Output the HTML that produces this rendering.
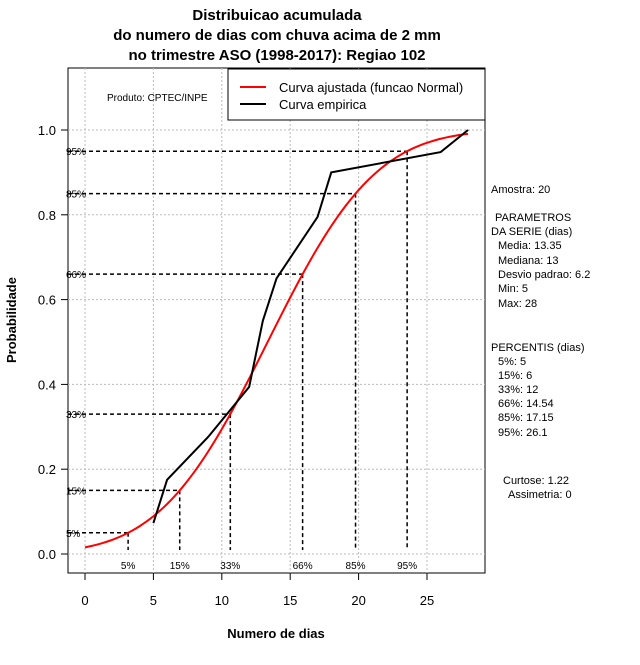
<!DOCTYPE html>
<html><head><meta charset="utf-8">
<style>
body{margin:0;background:#fff;}
svg text{font-family:"Liberation Sans",sans-serif;}
</style></head>
<body>
<svg id="c" width="640" height="660" xmlns="http://www.w3.org/2000/svg">
<text x="277" y="20" text-anchor="middle" font-size="15" font-weight="bold">Distribuicao acumulada</text>
<text x="277" y="40" text-anchor="middle" font-size="15" font-weight="bold">do numero de dias com chuva acima de 2 mm</text>
<text x="277" y="60" text-anchor="middle" font-size="15" font-weight="bold">no trimestre ASO (1998-2017): Regiao 102</text>
<rect x="68" y="68" width="417" height="505" fill="none" stroke="#000"/>
<g id="grid"></g><g id="axes"></g><g id="pct"></g><g id="series"></g>
<rect x="228" y="69" width="257" height="51" fill="#fff" stroke="#000"/>
<line x1="240" y1="87" x2="266" y2="87" stroke="red" stroke-width="2"/>
<text x="279" y="92" font-size="13">Curva ajustada (funcao Normal)</text>
<line x1="240" y1="104" x2="266" y2="104" stroke="#000" stroke-width="2"/>
<text x="279" y="109" font-size="13">Curva empirica</text>
<text x="107" y="101" font-size="10">Produto: CPTEC/INPE</text>
<text x="16" y="320" font-size="13" font-weight="bold" text-anchor="middle" transform="rotate(-90 16 320)">Probabilidade</text>
<text x="276" y="638" font-size="13" font-weight="bold" text-anchor="middle">Numero de dias</text>
<g font-size="11">
<text x="491" y="193">Amostra: 20</text>
<text x="495" y="221">PARAMETROS</text>
<text x="491" y="235">DA SERIE (dias)</text>
<text x="498" y="249">Media: 13.35</text>
<text x="498" y="264">Mediana: 13</text>
<text x="498" y="278">Desvio padrao: 6.2</text>
<text x="498" y="292">Min: 5</text>
<text x="498" y="307">Max: 28</text>
<text x="491" y="351">PERCENTIS (dias)</text>
<text x="498" y="365">5%: 5</text>
<text x="498" y="379">15%: 6</text>
<text x="498" y="393">33%: 12</text>
<text x="498" y="407">66%: 14.54</text>
<text x="498" y="421">85%: 17.15</text>
<text x="498" y="436">95%: 26.1</text>
<text x="503" y="484">Curtose: 1.22</text>
<text x="508" y="498">Assimetria: 0</text>
</g>
</svg>
<script>
const xTicks=[0,5,10,15,20,25];
const yTicks=[0,0.2,0.4,0.6,0.8,1.0];
const yTickLabels=["0.0","0.2","0.4","0.6","0.8","1.0"];
const empX=[5,6,9,10.5,12,13,14,17,18,26,28];
const empY=[0.073,0.175,0.276,0.335,0.394,0.55,0.65,0.795,0.9,0.948,1.0];
const mu=13.35, sd=6.2;
const pctLevels=[0.05,0.15,0.33,0.66,0.85,0.95];
const pctLabels=["5%","15%","33%","66%","85%","95%"];
const NS="http://www.w3.org/2000/svg";
const X=v=>85+v*13.68, Y=p=>554-p*424;
function mk(t,a,par){const e=document.createElementNS(NS,t);for(const k in a)e.setAttribute(k,a[k]);document.getElementById(par).appendChild(e);return e;}
function erf(x){const s=x<0?-1:1;x=Math.abs(x);const t=1/(1+0.3275911*x);const y=1-(((((1.061405429*t-1.453152027)*t)+1.421413741)*t-0.284496736)*t+0.254829592)*t*Math.exp(-x*x);return s*y;}
const pnorm=x=>0.5*(1+erf((x-mu)/(sd*Math.SQRT2)));
function qnorm(p){let lo=-50,hi=80;for(let i=0;i<80;i++){const m=(lo+hi)/2;if(pnorm(m)<p)lo=m;else hi=m;}return (lo+hi)/2;}
xTicks.forEach(v=>{
 let g=mk('line',{x1:X(v),x2:X(v),y1:68,y2:573,stroke:'#bbb','stroke-dasharray':'2,2'},'grid');
 
 let t=mk('line',{x1:X(v),x2:X(v),y1:573,y2:580,stroke:'#000'},'axes');
 
 let l=mk('text',{x:X(v),y:605,'text-anchor':'middle','font-size':13},'axes');l.textContent=v;
 
});
yTicks.forEach((v,i)=>{
 let g=mk('line',{x1:68,x2:485,y1:Y(v),y2:Y(v),stroke:'#bbb','stroke-dasharray':'2,2'},'grid');
 
 let t=mk('line',{x1:61,x2:68,y1:Y(v),y2:Y(v),stroke:'#000'},'axes');
 
 let l=mk('text',{x:56,y:Y(v)+5,'text-anchor':'end','font-size':13},'axes');l.textContent=yTickLabels[i];
 
});
pctLevels.forEach((p,i)=>{
 const q=qnorm(p);
 let h=mk('line',{x1:68,x2:X(q),y1:Y(p),y2:Y(p),stroke:'#000','stroke-width':1.5,'stroke-dasharray':'4,3'},'pct');
 
 let v=mk('line',{x1:X(q),x2:X(q),y1:Y(p),y2:550,stroke:'#000','stroke-width':1.5,'stroke-dasharray':'4,3'},'pct');
 
 let a=mk('text',{x:66,y:Y(p)+4,'font-size':10},'pct');a.textContent=pctLabels[i];
 
 let b=mk('text',{x:X(q),y:569,'font-size':10,'text-anchor':'middle'},'pct');b.textContent=pctLabels[i];
 
});
let pts=[];for(let x=0;x<=28.001;x+=0.25)pts.push(X(x)+','+Y(pnorm(x)));
let n=mk('polyline',{points:pts.join(' '),fill:'none',stroke:'red','stroke-width':2},'series');

let e=mk('polyline',{points:empX.map((x,i)=>X(x)+','+Y(empY[i])).join(' '),fill:'none',stroke:'#000','stroke-width':2},'series');

</script>
</body></html>
